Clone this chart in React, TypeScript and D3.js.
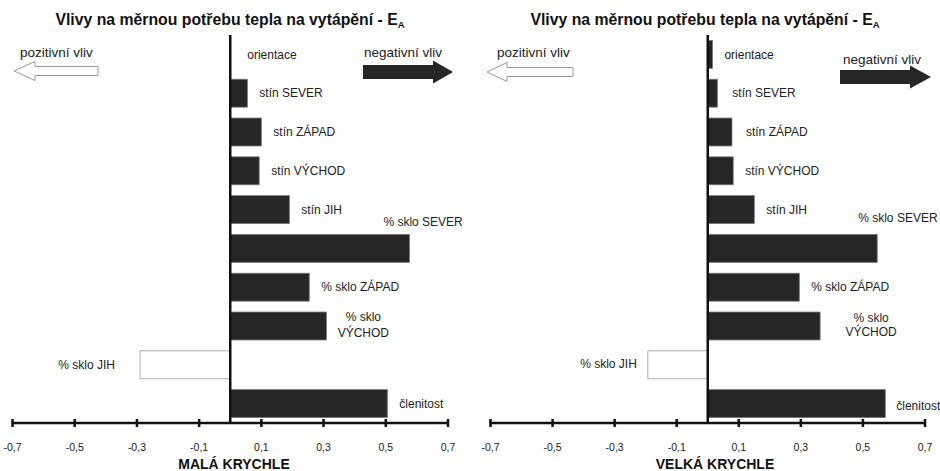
import React from "react";
import * as d3 from "d3";

const categories = [
  "orientace",
  "stín SEVER",
  "stín ZÁPAD",
  "stín VÝCHOD",
  "stín JIH",
  "% sklo SEVER",
  "% sklo ZÁPAD",
  "% sklo VÝCHOD",
  "% sklo JIH",
  "členitost",
];
const smallCube = [0, 0.055, 0.1, 0.093, 0.19, 0.576, 0.254, 0.309, -0.29, 0.505];
const largeCube = [0.015, 0.031, 0.078, 0.082, 0.15, 0.546, 0.295, 0.362, -0.193, 0.572];
const tickValues = [-0.7, -0.5, -0.3, -0.1, 0.1, 0.3, 0.5, 0.7];
const panelTitles = ["MALÁ KRYCHLE", "VELKÁ KRYCHLE"];
const chartTitle = "Vlivy na měrnou potřebu tepla na vytápění - E";
const chartTitleSub = "A";
const positiveLabel = "pozitivní vliv";
const negativeLabel = "negativní vliv";

type LabelLayout = { dx: number; dy: number; anchor: string; lines?: string[]; lineGap?: number };

const leftLabelLayout: Record<string, LabelLayout> = {
  "orientace": { dx: 17, dy: 0, anchor: "start" },
  "% sklo SEVER": { dx: -26, dy: -27, anchor: "start" },
  "% sklo VÝCHOD": { dx: 37, dy: -9, anchor: "middle", lines: ["% sklo", "VÝCHOD"], lineGap: 16 },
  "% sklo JIH": { dx: -25, dy: 0, anchor: "end" },
};
const rightLabelLayout: Record<string, LabelLayout> = {
  "stín SEVER": { dx: 15, dy: 0, anchor: "start" },
  "stín ZÁPAD": { dx: 14, dy: 0, anchor: "start" },
  "% sklo SEVER": { dx: -19, dy: -31, anchor: "start" },
  "% sklo VÝCHOD": { dx: 51, dy: -8, anchor: "middle", lines: ["% sklo", "VÝCHOD"], lineGap: 14 },
  "% sklo JIH": { dx: -11, dy: -1, anchor: "end" },
  "členitost": { dx: 11, dy: 2, anchor: "start" },
};

const FONT = "'Liberation Sans', Arial, Helvetica, sans-serif";
const LABEL_SIZE = 12;

type ArrowSpec = { tip: number; back: number; tail: number; y: number; textX: number; textY: number };

function Panel({
  values,
  x0,
  x1,
  titleX,
  axisTitleX,
  axisTitle,
  layout,
  posArrow,
  negArrow,
}: {
  values: number[];
  x0: number;
  x1: number;
  titleX: number;
  axisTitleX: number;
  axisTitle: string;
  layout: Record<string, LabelLayout>;
  posArrow: ArrowSpec;
  negArrow: ArrowSpec;
}) {
  const x = d3.scaleLinear().domain([-0.7, 0.7]).range([x0, x1]);
  const y = d3.scaleBand<string>().domain(categories).range([35, 423]).paddingInner(0.28).paddingOuter(0.14);
  const axisY = 423;
  const zx = x(0);

  const arrowPath = (tip: number, back: number, tail: number, cy: number, hh: number, bh: number) => {
    const p = d3.path();
    p.moveTo(tip, cy);
    p.lineTo(back, cy - hh);
    p.lineTo(back, cy - bh);
    p.lineTo(tail, cy - bh);
    p.lineTo(tail, cy + bh);
    p.lineTo(back, cy + bh);
    p.lineTo(back, cy + hh);
    p.closePath();
    return p.toString();
  };

  return (
    <g>
      <text x={titleX} y={25} textAnchor="middle" fontFamily={FONT} fontWeight="bold" fontSize={15.8} fill="#111">
        {chartTitle}
        <tspan fontSize={9.5} dy={3}>{chartTitleSub}</tspan>
      </text>

      {/* arrows */}
      <text x={posArrow.textX} y={posArrow.textY} fontFamily={FONT} fontSize={13.5} fill="#222">
        {positiveLabel}
      </text>
      <path
        d={arrowPath(posArrow.tip, posArrow.back, posArrow.tail, posArrow.y, 9.5, 4.5)}
        fill="#fff"
        stroke="#999"
        strokeWidth={1}
      />
      <text x={negArrow.textX} y={negArrow.textY} fontFamily={FONT} fontSize={13.5} fill="#222">
        {negativeLabel}
      </text>
      <path d={arrowPath(negArrow.tip, negArrow.back, negArrow.tail, negArrow.y, 11.5, 7)} fill="#262626" />

      {/* bars */}
      {categories.map((c, i) => {
        const v = values[i];
        const bx = Math.min(x(v), zx);
        const w = Math.abs(x(v) - zx);
        const neg = v < 0;
        return (
          <rect
            key={c}
            x={bx}
            y={y(c)!}
            width={w}
            height={y.bandwidth()}
            fill={neg ? "#fff" : "#262626"}
            stroke={neg ? "#999" : "#777"}
            strokeWidth={0.8}
          />
        );
      })}

      {/* labels */}
      {categories.map((c, i) => {
        const v = values[i];
        const end = x(v);
        const L: LabelLayout = layout[c] || { dx: 12, dy: 0, anchor: "start" };
        const cy = y(c)! + y.bandwidth() / 2 + L.dy;
        const lx = end + L.dx;
        if (L.lines) {
          return (
            <text key={c} x={lx} y={cy} textAnchor={L.anchor} fontFamily={FONT} fontSize={LABEL_SIZE} fill="#222">
              {L.lines.map((ln, j) => (
                <tspan key={j} x={lx} dy={j === 0 ? "0.35em" : L.lineGap}>
                  {ln}
                </tspan>
              ))}
            </text>
          );
        }
        return (
          <text key={c} x={lx} y={cy} textAnchor={L.anchor} fontFamily={FONT} fontSize={LABEL_SIZE} fill="#222" dy="0.35em">
            {c}
          </text>
        );
      })}

      {/* zero line */}
      <line x1={zx} x2={zx} y1={35} y2={axisY} stroke="#111" strokeWidth={2.5} />

      {/* axis */}
      <line x1={x(-0.7)} x2={x(0.7)} y1={axisY} y2={axisY} stroke="#111" strokeWidth={2.5} />
      {tickValues.map((t) => (
        <g key={t}>
          <line x1={x(t)} x2={x(t)} y1={axisY - 4} y2={axisY + 4} stroke="#111" strokeWidth={2.5} />
          <text x={x(t)} y={447} textAnchor="middle" fontFamily={FONT} fontSize={10.5} fill="#222" dy="0.35em">
            {d3.format(".1f")(t).replace(".", ",").replace("−", "-")}
          </text>
        </g>
      ))}
      <text x={axisTitleX} y={469} textAnchor="middle" fontFamily={FONT} fontWeight="bold" fontSize={14} fill="#111">
        {axisTitle}
      </text>
    </g>
  );
}

export default function App() {
  return (
    <svg width={940} height={471} style={{ position: "absolute", left: 0, top: 0, background: "#fff" }}>
      <rect x={0} y={0} width={940} height={471} fill="#fff" />
      <Panel
        values={smallCube}
        x0={12.5}
        x1={448}
        titleX={230}
        axisTitleX={234}
        axisTitle={panelTitles[0]}
        layout={leftLabelLayout}
        posArrow={{ tip: 14, back: 35, tail: 98, y: 71, textX: 20, textY: 57 }}
        negArrow={{ tip: 453, back: 433, tail: 363, y: 72, textX: 364, textY: 57 }}
      />
      <Panel
        values={largeCube}
        x0={490.5}
        x1={925}
        titleX={705}
        axisTitleX={715}
        axisTitle={panelTitles[1]}
        layout={rightLabelLayout}
        posArrow={{ tip: 487, back: 507, tail: 573, y: 72, textX: 497, textY: 57 }}
        negArrow={{ tip: 931, back: 910, tail: 840, y: 77, textX: 843, textY: 64 }}
      />
    </svg>
  );
}
